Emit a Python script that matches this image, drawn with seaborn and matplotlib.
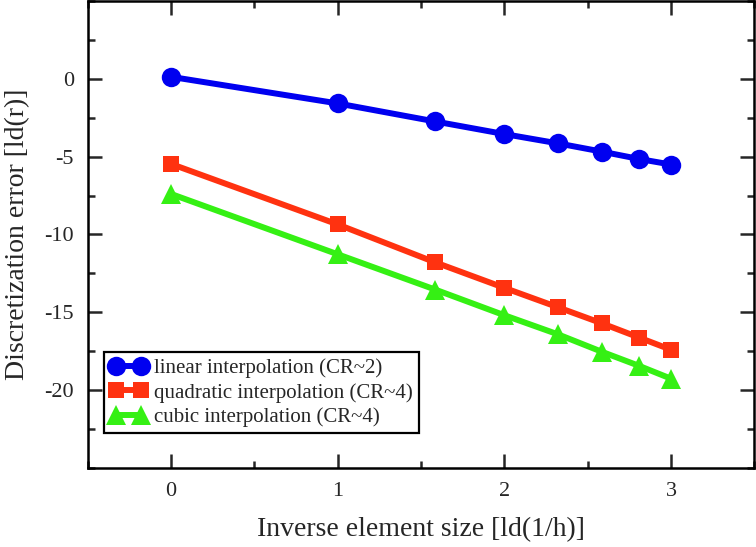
import numpy as np
import pandas as pd
import matplotlib
matplotlib.use('Agg')
import matplotlib.pyplot as plt
import seaborn as sns
from matplotlib.ticker import MultipleLocator

# data
x_ld = [0, 1, 1.585, 2, 2.322, 2.585, 2.807, 3]
err_linear = [0.13, -1.58, -2.74, -3.55, -4.15, -4.68, -5.15, -5.51]
err_quadratic = [-5.47, -9.36, -11.8, -13.44, -14.69, -15.72, -16.63, -17.42]
err_cubic = [-7.4, -11.28, -13.55, -15.2, -16.43, -17.55, -18.45, -19.28]

labels = ['linear interpolation (CR~2)',
          'quadratic interpolation (CR~4)',
          'cubic interpolation (CR~4)']
colors = ['#0000f0', '#ff3210', '#35f014']
markers = ['o', 's', '^']
msizes = [14, 12, 14]

sns.set_style('ticks')
plt.rcParams['font.family'] = ['Liberation Serif', 'DejaVu Serif']
plt.rcParams['axes.unicode_minus'] = False

fig = plt.figure(figsize=(7.56, 5.47), dpi=100)
ax = fig.add_axes([0.116, 0.145, 0.882, 0.853])

for ys, lab, col, mk, ms in zip([err_linear, err_quadratic, err_cubic],
                                labels, colors, markers, msizes):
    df = pd.DataFrame({'x': x_ld, 'y': ys})
    sns.lineplot(data=df, x='x', y='y', ax=ax, color=col, marker=mk,
                 markersize=ms, markeredgewidth=0, linewidth=4.3, label=lab)

ax.set_xlim(-0.5, 3.5)
ax.set_ylim(-25, 5)
ax.xaxis.set_major_locator(MultipleLocator(1))
ax.xaxis.set_minor_locator(MultipleLocator(0.5))
ax.yaxis.set_minor_locator(MultipleLocator(2.5))
ax.set_yticks([-20, -15, -10, -5, 0])
ax.tick_params(which='both', direction='in', top=True, right=True,
               width=1.8, labelsize=16)
ax.tick_params(which='major', length=10, pad=10)
ax.tick_params(which='minor', length=5)
for s in ax.spines.values():
    s.set_linewidth(1.8)
    s.set_color('black')

ax.set_xlabel('Inverse element size [ld(1/h)]', fontsize=20, labelpad=12)
ax.set_ylabel('Discretization error [ld(r)]', fontsize=20, labelpad=10)

leg = ax.legend(loc='lower left', bbox_to_anchor=(0.024, 0.074),
                borderaxespad=0, fontsize=15, fancybox=False,
                framealpha=1, edgecolor='black', numpoints=2,
                handlelength=1.8, handletextpad=0.3, labelspacing=0.22,
                borderpad=0.3)
leg.get_frame().set_linewidth(1.6)

fig.savefig('out.png', dpi=100)
